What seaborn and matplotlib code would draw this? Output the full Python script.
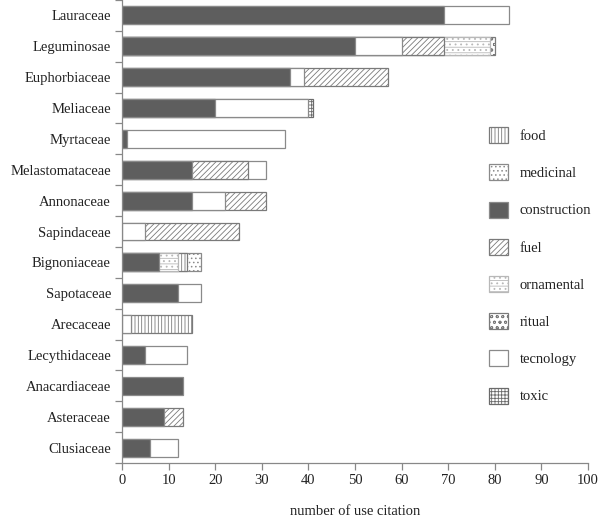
import numpy as np
import pandas as pd
import matplotlib
matplotlib.use("Agg")
import matplotlib.pyplot as plt
from matplotlib.patches import Patch
import seaborn as sns

categories = ["Lauraceae", "Leguminosae", "Euphorbiaceae", "Meliaceae", "Myrtaceae",
              "Melastomataceae", "Annonaceae", "Sapindaceae", "Bignoniaceae", "Sapotaceae",
              "Arecaceae", "Lecythidaceae", "Anacardiaceae", "Asteraceae", "Clusiaceae"]

# segments in drawing order (left to right within each bar)
seg_family = ["Lauraceae", "Lauraceae",
              "Leguminosae", "Leguminosae", "Leguminosae", "Leguminosae", "Leguminosae",
              "Euphorbiaceae", "Euphorbiaceae", "Euphorbiaceae",
              "Meliaceae", "Meliaceae", "Meliaceae",
              "Myrtaceae", "Myrtaceae",
              "Melastomataceae", "Melastomataceae", "Melastomataceae",
              "Annonaceae", "Annonaceae", "Annonaceae",
              "Sapindaceae", "Sapindaceae",
              "Bignoniaceae", "Bignoniaceae", "Bignoniaceae", "Bignoniaceae",
              "Sapotaceae", "Sapotaceae",
              "Arecaceae", "Arecaceae",
              "Lecythidaceae", "Lecythidaceae",
              "Anacardiaceae",
              "Asteraceae", "Asteraceae",
              "Clusiaceae", "Clusiaceae"]
seg_use = ["construction", "tecnology",
           "construction", "tecnology", "fuel", "ornamental", "ritual",
           "construction", "tecnology", "fuel",
           "construction", "tecnology", "toxic",
           "construction", "tecnology",
           "construction", "fuel", "tecnology",
           "construction", "tecnology", "fuel",
           "tecnology", "fuel",
           "construction", "ornamental", "food", "medicinal",
           "construction", "tecnology",
           "tecnology", "food",
           "construction", "tecnology",
           "construction",
           "construction", "fuel",
           "construction", "tecnology"]
seg_value = [69, 14,
             50, 10, 9, 10, 1,
             36, 3, 18,
             20, 20, 1,
             1, 34,
             15, 12, 4,
             15, 7, 9,
             5, 20,
             8, 4, 2, 3,
             12, 5,
             2, 13,
             5, 9,
             13,
             9, 4,
             6, 6]

uses = ["food", "medicinal", "construction", "fuel", "ornamental", "ritual", "tecnology", "toxic"]
x_ticks = [0, 10, 20, 30, 40, 50, 60, 70, 80, 90, 100]

styles = {
    "food":         dict(facecolor="white", hatch="|||||", edgecolor="#7a7a7a"),
    "medicinal":    dict(facecolor="white", hatch="....", edgecolor="#8a8a8a"),
    "construction": dict(facecolor="#5e5e5e", hatch=None, edgecolor="#8a8a8a"),
    "fuel":         dict(facecolor="white", hatch="//////", edgecolor="#7a7a7a"),
    "ornamental":   dict(facecolor="white", hatch="---...", edgecolor="#b8b8b8"),
    "ritual":       dict(facecolor="white", hatch="ooo", edgecolor="#7a7a7a"),
    "tecnology":    dict(facecolor="white", hatch=None, edgecolor="#8a8a8a"),
    "toxic":        dict(facecolor="white", hatch="+++++", edgecolor="#6a6a6a"),
}

FS = 10.5

sns.set_style("ticks")
plt.rcParams["font.family"] = ["Liberation Serif", "DejaVu Serif"]
plt.rcParams["hatch.linewidth"] = 0.6

df = pd.DataFrame({"family": seg_family, "use": seg_use, "value": seg_value})
df["end"] = df.groupby("family", sort=False)["value"].cumsum()
df["rank"] = df.groupby("family", sort=False).cumcount()

fig = plt.figure(figsize=(6.0, 5.19), dpi=100)
ax = fig.add_axes([122 / 600, 56 / 519, 466 / 600, 463 / 519])

for r in sorted(df["rank"].unique(), reverse=True):
    sub = df[df["rank"] == r]
    n_before = len(ax.patches)
    sns.barplot(data=sub, x="end", y="family", order=categories, orient="h",
                width=0.58, errorbar=None, ax=ax, color="white")
    lookup = dict(zip(sub["family"], sub["use"]))
    for p in ax.patches[n_before:]:
        idx = int(round(p.get_y() + p.get_height() / 2))
        fam = categories[idx]
        if fam not in lookup:
            continue
        st = styles[lookup[fam]]
        p.set_facecolor(st["facecolor"])
        p.set_edgecolor(st["edgecolor"])
        p.set_hatch(st["hatch"])
        p.set_linewidth(0.9)

ax.set_xlim(0, 100)
ax.set_ylim(len(categories) - 0.5, -0.5)
ax.set_xticks(x_ticks)
ax.set_xticklabels([str(t) for t in x_ticks])
ax.set_yticks(range(len(categories)))
ax.set_yticklabels(categories)
ax.set_yticks(np.arange(len(categories) + 1) - 0.5, minor=True)
ax.tick_params(axis="y", which="major", length=0, pad=8, labelsize=FS, labelcolor="#222222")
ax.tick_params(axis="y", which="minor", length=5, color="#888888", width=0.9)
ax.tick_params(axis="x", which="major", length=5, color="#888888", width=0.9,
               labelsize=FS, labelcolor="#222222", pad=3)
ax.set_ylabel("")
ax.set_xlabel("number of use citation", fontsize=FS, color="#222222", labelpad=13)
for s in ["top", "right"]:
    ax.spines[s].set_visible(False)
for s in ["left", "bottom"]:
    ax.spines[s].set_color("#888888")
    ax.spines[s].set_linewidth(0.9)

handles = [Patch(facecolor=styles[u]["facecolor"], edgecolor=styles[u]["edgecolor"],
                 hatch=styles[u]["hatch"], linewidth=0.9, label=u) for u in uses]
fig.legend(handles=handles, loc="upper left", bbox_to_anchor=(482 / 600, 1 - 120 / 519),
           frameon=False, fontsize=FS, handlelength=1.3, handleheight=1.3,
           labelspacing=1.46, handletextpad=0.8, borderpad=0, labelcolor="#222222")

fig.savefig("out.png", dpi=100)
